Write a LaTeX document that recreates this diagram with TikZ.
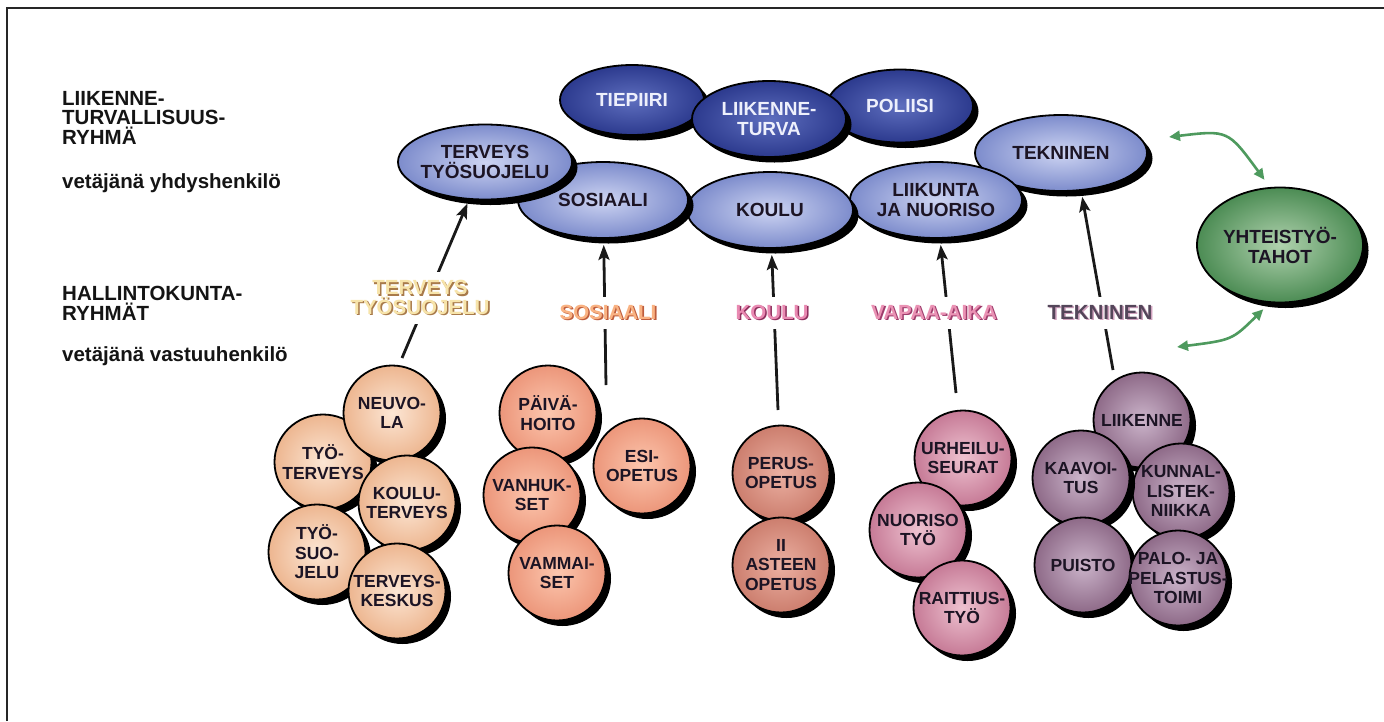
\documentclass[tikz,border=0pt]{standalone}
\usepackage{fontspec}
\setmainfont{Liberation Sans}
\usetikzlibrary{shapes.geometric,shadows,arrows.meta}

% fills of the bubbles (inner = highlight, outer = rim)
\definecolor{dbIn}{HTML}{5E6EBE}\definecolor{dbOut}{HTML}{2C3A8E}
\definecolor{lbIn}{HTML}{CDD4F2}\definecolor{lbOut}{HTML}{7D8CCC}
\definecolor{grIn}{HTML}{B0D2AE}\definecolor{grOut}{HTML}{4C8C54}
\definecolor{peIn}{HTML}{FCE6D4}\definecolor{peOut}{HTML}{EDB690}
\definecolor{saIn}{HTML}{FCC6AE}\definecolor{saOut}{HTML}{EC967A}
\definecolor{roIn}{HTML}{EBB0A2}\definecolor{roOut}{HTML}{CC7E6E}
\definecolor{piIn}{HTML}{EEC2D0}\definecolor{piOut}{HTML}{C67A96}
\definecolor{puIn}{HTML}{CBB4CA}\definecolor{puOut}{HTML}{8E6A88}
\definecolor{inkDark}{HTML}{1C1424}
\definecolor{inkLight}{HTML}{EEF0FC}
\definecolor{arrGreen}{HTML}{4E9A5E}
% two-tone group labels
\definecolor{tervF}{HTML}{F7E4AA}\definecolor{tervS}{HTML}{A87A4A}
\definecolor{sosF}{HTML}{F9B282}\definecolor{sosS}{HTML}{BE5C3C}
\definecolor{kouF}{HTML}{E98AB2}\definecolor{kouS}{HTML}{8E2E5C}
\definecolor{vapF}{HTML}{EA92B4}\definecolor{vapS}{HTML}{9E3C6C}
\definecolor{tekF}{HTML}{54465A}\definecolor{tekS}{HTML}{D0A2BE}

% text with a coloured face and an offset darker copy behind it
\newcommand\embossed[3]{\makebox[0pt][l]{\hspace{1.6pt}\raisebox{-1.6pt}{\textcolor{#2}{#3}}}\textcolor{#1}{#3}}

\tikzset{
  frame/.style={draw=black!85, line width=1.4pt},
  shad/.style={drop shadow={shadow xshift=5.5pt, shadow yshift=-5.5pt, opacity=1, fill=black}},
  oval/.style={ellipse, draw=black, line width=1.8pt, inner sep=0pt, shad},
  ball/.style={oval, minimum width=97pt, minimum height=95pt},
  ctxt/.style={font=\fontsize{17.5}{19.5}\selectfont\bfseries, text=inkDark, align=center, inner sep=0pt},
  otxt/.style={font=\fontsize{19}{20}\selectfont\bfseries, text=inkDark, align=center, inner sep=0pt},
  wtxt/.style={otxt, text=inkLight},
  darkov/.style={oval, inner color=dbIn, outer color=dbOut},
  lightov/.style={oval, minimum width=172pt, minimum height=76pt, inner color=lbIn, outer color=lbOut},
  pe/.style={ball, inner color=peIn, outer color=peOut},
  sa/.style={ball, inner color=saIn, outer color=saOut},
  ro/.style={ball, inner color=roIn, outer color=roOut},
  pi/.style={ball, inner color=piIn, outer color=piOut},
  pu/.style={ball, inner color=puIn, outer color=puOut},
  lefttxt/.style={font=\fontsize{20.5}{19.5}\selectfont\bfseries, text=black!92, align=left, inner sep=0pt},
  grouplab/.style={font=\fontsize{20.5}{19.5}\selectfont\bfseries, align=center, fill=white, inner xsep=3pt, inner ysep=8pt},
  barr/.style={draw=black!90, line width=2.8pt, -{Stealth[length=15pt,width=11pt,inset=3pt]}},
  garr/.style={draw=arrGreen, line width=2.6pt, {Triangle[length=11pt,width=10pt]}-{Triangle[length=11pt,width=10pt]}},
}

\begin{document}
\begin{tikzpicture}[x=1pt, y=-1pt]
\path[use as bounding box] (0,0) rectangle (1384,721);

% outer frame
\draw[frame] (7,721) -- (7,8) -- (1384,8);

% left-hand captions
\node[lefttxt, anchor=north west] (capLtr) at (62,91) {LIIKENNE-\\TURVALLISUUS-\\RYHMÄ};
\node[lefttxt, anchor=base west] (capVeto1) at (62,188) {vetäjänä yhdyshenkilö};
\node[lefttxt, anchor=north west] (capHk) at (62,286) {HALLINTOKUNTA-\\RYHMÄT};
\node[lefttxt, anchor=base west] (capVeto2) at (62,361) {vetäjänä vastuuhenkilö};

% traffic safety group: outside partners
\node[darkov, minimum width=144pt, minimum height=70pt, label={[wtxt]center:TIEPIIRI}] (tiepiiri) at (632,100) {};
\node[darkov, minimum width=146pt, minimum height=73pt, label={[wtxt]center:POLIISI}] (poliisi) at (900,106) {};
\node[darkov, minimum width=154pt, minimum height=76pt, label={[wtxt]center:LIIKENNE-\\TURVA}] (lturva) at (769,119) {};

% traffic safety group: municipal sectors
\node[lightov, label={[otxt]center:TEKNINEN}] (tek) at (1061,153) {};
\node[lightov, label={[otxt]center:LIIKUNTA\\JA NUORISO}] (liik) at (936,200) {};
\node[lightov, minimum width=166pt, label={[otxt]center:KOULU}] (kou) at (770,210) {};
\node[lightov, minimum width=170pt, label={[otxt]center:SOSIAALI}] (sos) at (603,200) {};
\node[lightov, minimum width=174pt, minimum height=75pt, label={[otxt]center:TERVEYS\\TYÖSUOJELU}] (terv) at (485,162) {};

% cooperation partners
\node[oval, minimum width=166pt, minimum height=115pt, inner color=grIn, outer color=grOut,
      label={[otxt]center:YHTEISTYÖ-\\TAHOT}] (yht) at (1280,245) {};

% health and work safety units
\node[pe, label={[ctxt]center:TYÖ-\\TERVEYS}] (tyoterv) at (323,462) {};
\node[pe, label={[ctxt]center:NEUVO-\\LA}] (neuvola) at (392,413) {};
\node[pe, label={[ctxt]center:TYÖ-\\SUO-\\JELU}] (tyosuo) at (317,552) {};
\node[pe, label={[ctxt]center:KOULU-\\TERVEYS}] (kouluterv) at (407,503) {};
\node[pe, label={[ctxt]center:TERVEYS-\\KESKUS}] (tkeskus) at (397,591) {};

% social services units
\node[sa, label={[ctxt]center:PÄIVÄ-\\HOITO}] (paiva) at (548,413) {};
\node[sa, label={[ctxt]center:VANHUK-\\SET}] (vanhuk) at (532,495) {};
\node[sa, label={[ctxt]center:VAMMAI-\\SET}] (vammai) at (557,573) {};
\node[sa, label={[ctxt]center:ESI-\\OPETUS}] (esi) at (642,466) {};

% school units
\node[ro, label={[ctxt]center:PERUS-\\OPETUS}] (perus) at (781,473) {};
\node[ro, label={[ctxt]center:II\\ASTEEN\\OPETUS}] (asteen) at (781,565) {};

% leisure units
\node[pi, label={[ctxt]center:URHEILU-\\SEURAT}] (urheilu) at (963,458) {};
\node[pi, label={[ctxt]center:NUORISO\\TYÖ}] (nuoriso) at (918,530) {};
\node[pi, label={[ctxt]center:RAITTIUS-\\TYÖ}] (raittius) at (962,608) {};

% technical services units
\node[pu, label={[ctxt]center:LIIKENNE}] (liikenne) at (1142,420) {};
\node[pu, label={[ctxt]center:KUNNAL-\\LISTEK-\\NIIKKA}] (kunnal) at (1181,491) {};
\node[pu, label={[ctxt]center:KAAVOI-\\TUS}] (kaavoitus) at (1081,478) {};
\node[pu, label={[ctxt]center:PUISTO}] (puisto) at (1083,565) {};
\node[pu, label={[ctxt]center:PALO- JA\\PELASTUS-\\TOIMI}] (palo) at (1178,578) {};

% where each sector group reports upward
\coordinate (upTerv) at (402,358);
\coordinate (upSos) at (606,385);
\coordinate (upKou) at (778,410);
\coordinate (upVap) at (956,393);
\coordinate (upTek) at (1113,370);

\draw[barr, shorten >=4pt] (upTerv) -- (terv);
\draw[barr, shorten >=6pt] (upSos) -- (sos);
\draw[barr, shorten >=6pt] (upKou) -- (kou);
\draw[barr, shorten >=6pt] (upVap) -- (liik);
\draw[barr, shorten >=6pt] (upTek) -- (tek.-62);

% sector group names sitting on the arrows
\node[grouplab] (labTerv) at (420,298) {\embossed{tervF}{tervS}{TERVEYS}\\\embossed{tervF}{tervS}{TYÖSUOJELU}};
\node[grouplab] (labSos) at (608,313) {\embossed{sosF}{sosS}{SOSIAALI}};
\node[grouplab] (labKou) at (772,313) {\embossed{kouF}{kouS}{KOULU}};
\node[grouplab] (labVap) at (934,313) {\embossed{vapF}{vapS}{VAPAA-AIKA}};
\node[grouplab] (labTek) at (1100,313) {\embossed{tekF}{tekS}{TEKNINEN}};

% two-way links to the cooperation partners
\coordinate (linkUp) at (1169,137);
\coordinate (linkDown) at (1177,347);
\draw[garr, shorten >=9pt] (linkUp) .. controls (1228,130) .. (yht.100);
\draw[garr, shorten <=9pt] (yht.-100) .. controls (1232,340) .. (linkDown);
\end{tikzpicture}
\end{document}
